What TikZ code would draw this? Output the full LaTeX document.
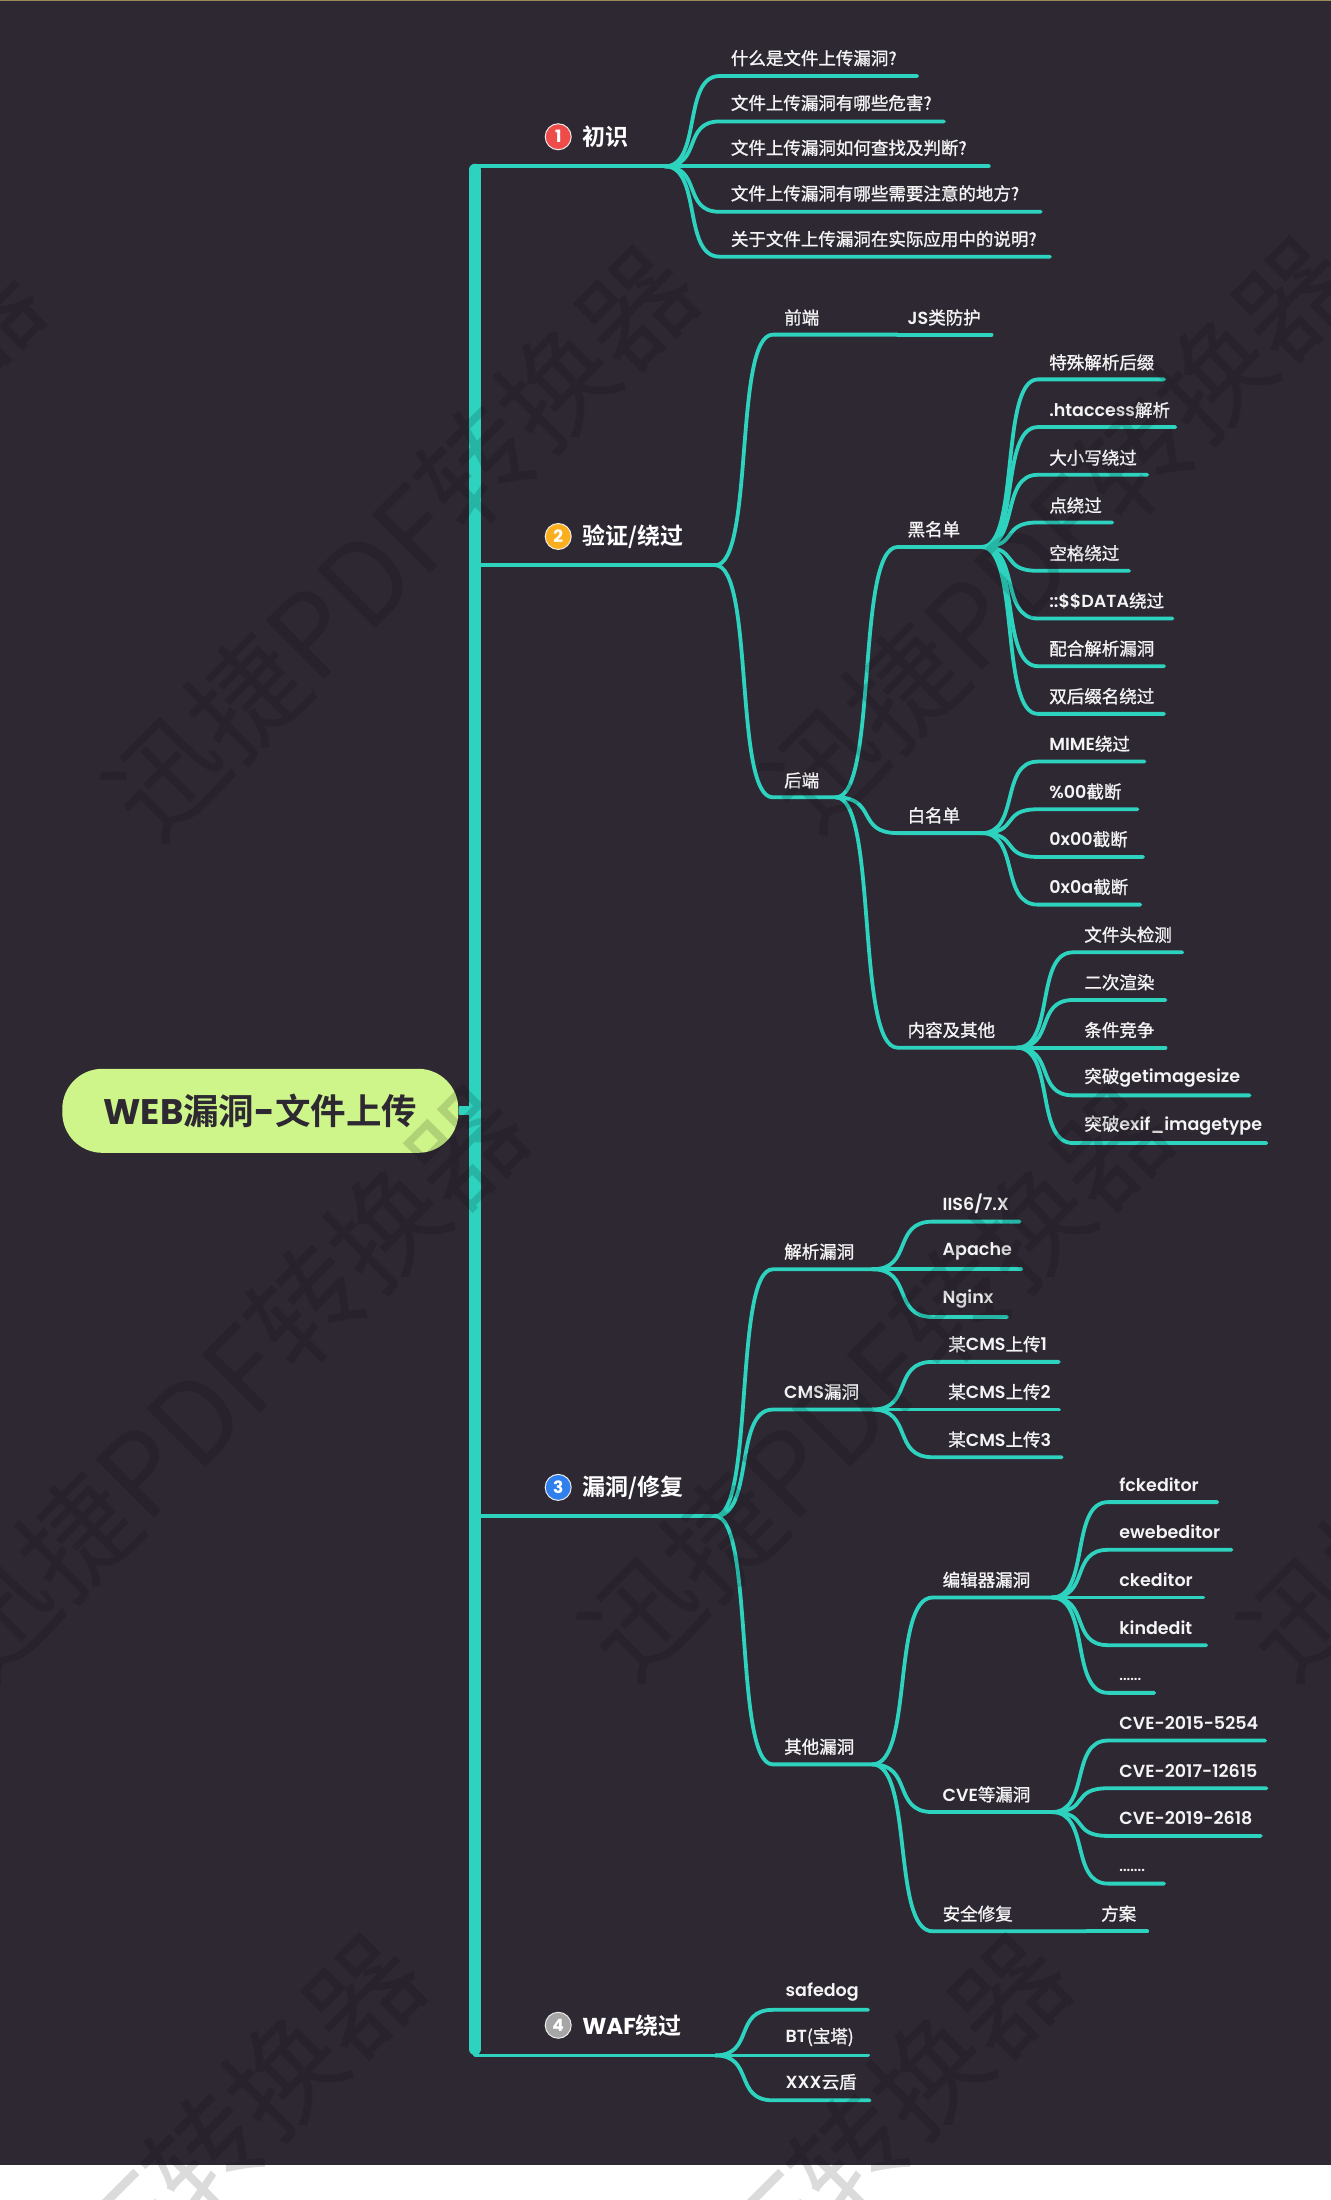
\documentclass[tikz,border=0pt]{standalone}
\usepackage{fontspec}
\usetikzlibrary{calc}
\setmainfont{Poppins SemiBold}
\newfontfamily\zh[FakeBold=1.2]{Noto Sans CJK SC}
\newfontfamily\zhb{Noto Sans CJK SC}[BoldFont={* Bold}]
\newfontfamily\zhw{Noto Sans CJK SC}
\newfontfamily\latb{Poppins}[BoldFont={* Bold}]
\definecolor{bgc}{HTML}{2E2833}
\definecolor{teal}{HTML}{2DD3BF}
\definecolor{pill}{HTML}{CEF58A}
\definecolor{txt}{HTML}{F4F4F4}
\definecolor{gold}{HTML}{9A8A5A}
\definecolor{bred}{HTML}{EE4B4B}
\definecolor{bora}{HTML}{FCAF1E}
\definecolor{bblu}{HTML}{2F80ED}
\definecolor{bgry}{HTML}{A6A6A6}
\tikzset{
  x=1.4025pt,y=-1.4025pt,
  wire/.style={draw=teal,line width=3.8pt,line cap=round,line join=round},
  lab/.style={anchor=west,inner sep=0pt,text=txt,font=\fontsize{17.5pt}{20pt}\selectfont},
  head/.style={anchor=west,inner sep=0pt,text=white,font=\fontsize{23pt}{26pt}\selectfont},
  badge/.style={circle,draw=white!85!gray,line width=1pt,minimum size=26pt,inner sep=0pt,text=white,font=\fontsize{17pt}{17pt}\selectfont\latb\bfseries},
  wmark/.style={rotate=45,text=black,opacity=0.14,inner sep=0pt,font=\fontsize{113pt}{113pt}\zhw}
}
% name, text x, text y, line y, line start x, line end x, text
\newcommand{\topic}[7]{%
  \node[lab] (#1) at (#2,#3+0.4) {#7};
  \coordinate (#1-s) at (#5,#4);
  \coordinate (#1-e) at (#6,#4);
}
\newcommand{\link}[2]{%
  \draw[wire] let \p1=(#1-e),\p2=(#2-s),\n1={0.68*(\x2-\x1)} in
    (\p1) .. controls (\x1+\n1,\y1) and (\x2-\n1,\y2) .. (\p2) -- (#2-e);
}
\begin{document}
\begin{tikzpicture}
\useasboundingbox (0,0) rectangle (949,1568.6);
\begin{scope}
\clip (0,0) rectangle (949,1568.6);
\fill[white] (0,0) rectangle (949,1568.6);
\fill[bgc] (0,0) rectangle (949,1543.6);
\fill[gold] (0,0) rectangle (949,0.8);

% trunk
\coordinate (trunk-top) at (338.7,121);
\coordinate (trunk-bot) at (338.7,1461);
\node[fill=pill,rounded corners=40pt,minimum width=396pt,minimum height=84pt,inner sep=0pt,text=bgc,
      font=\fontsize{35.5pt}{38pt}\selectfont] (root) at (185.6,792) {{\latb\bfseries WEB}{\zhb\bfseries 漏洞}{\latb\bfseries -}{\zhb\bfseries 文件上传}};
\draw[teal,line width=9pt] (root.east) -- (root.east -| trunk-top);
\draw[teal,line width=12pt,line cap=round] (trunk-top) -- (trunk-bot);

% level one
\node[badge,fill=bred] (b1) at (398,97.5) {1};
\node[badge,fill=bora] (b2) at (398,382.5) {2};
\node[badge,fill=bblu] (b3) at (398,1060.5) {3};
\node[badge,fill=bgry] (b4) at (398,1444) {4};
\node[head] (L1) at (415,97.5) {{\zhb\bfseries 初识}};
\node[head] (L2) at (415,382.5) {{\zhb\bfseries 验证/绕过}};
\node[head] (L3) at (415,1060.5) {{\zhb\bfseries 漏洞/修复}};
\node[head] (L4) at (415,1444) {{\latb\bfseries WAF}{\zhb\bfseries 绕过}};
\coordinate (L1-s) at (338.7,118.6); \coordinate (L1-e) at (474,118.6);
\coordinate (L2-s) at (338.7,403);   \coordinate (L2-e) at (510,403);
\coordinate (L3-s) at (338.7,1081);  \coordinate (L3-e) at (510,1081);
\coordinate (L4-s) at (338.7,1465.5);\coordinate (L4-e) at (510,1465.5);
\foreach \k in {L1,L2,L3,L4} {\draw[wire] (\k-s) -- (\k-e);}

% 初识
\topic{a1}{521}{41}{54.2}{513}{654}{{\zh 什么是文件上传漏洞?}}
\topic{a2}{521}{73}{86.6}{513}{673}{{\zh 文件上传漏洞有哪些危害?}}
\topic{a3}{521}{105}{118.6}{513}{705}{{\zh 文件上传漏洞如何查找及判断?}}
\topic{a4}{521}{137.5}{151}{513}{742}{{\zh 文件上传漏洞有哪些需要注意的地方?}}
\topic{a5}{521}{170}{183}{513}{748.6}{{\zh 关于文件上传漏洞在实际应用中的说明?}}
\foreach \k in {a1,a2,a3,a4,a5} {\link{L1}{\k}}

% 验证/绕过
\topic{front}{559}{226}{238.6}{551}{640}{{\zh 前端}}
\topic{js}{647}{226}{238.6}{640}{707}{JS{\zh 类防护}}
\topic{back}{559}{556}{568.5}{551}{596}{{\zh 后端}}
\link{L2}{front}
\link{L2}{back}
\draw[wire] (front-e) -- (js-s) -- (js-e);

\topic{black}{647}{377}{390}{640}{700}{{\zh 黑名单}}
\topic{white}{647}{581}{594}{640}{700}{{\zh 白名单}}
\topic{other}{647}{734}{747}{640}{725}{{\zh 内容及其他}}
\foreach \k in {black,white,other} {\link{back}{\k}}

\topic{b1x}{748}{258}{270.5}{740}{830}{{\zh 特殊解析后缀}}
\topic{b2x}{748}{292}{304.5}{740}{838}{.htaccess{\zh 解析}}
\topic{b3x}{748}{326}{338.5}{740}{818}{{\zh 大小写绕过}}
\topic{b4x}{748}{360}{372.5}{740}{793}{{\zh 点绕过}}
\topic{b5x}{748}{394}{407}{740}{805}{{\zh 空格绕过}}
\topic{b6x}{748}{428}{441}{740}{836}{::\$\$DATA{\zh 绕过}}
\topic{b7x}{748}{462}{475}{740}{830}{{\zh 配合解析漏洞}}
\topic{b8x}{748}{496}{509}{740}{830}{{\zh 双后缀名绕过}}
\foreach \k in {b1x,b2x,b3x,b4x,b5x,b6x,b7x,b8x} {\link{black}{\k}}

\topic{w1}{748}{530}{543}{740}{816}{MIME{\zh 绕过}}
\topic{w2}{748}{564}{577}{740}{811}{\%00{\zh 截断}}
\topic{w3}{748}{598}{611}{740}{815}{0x00{\zh 截断}}
\topic{w4}{748}{632}{645}{740}{813}{0x0a{\zh 截断}}
\foreach \k in {w1,w2,w3,w4} {\link{white}{\k}}

\topic{o1}{773}{666}{679}{765}{843}{{\zh 文件头检测}}
\topic{o2}{773}{700}{713}{765}{831}{{\zh 二次渲染}}
\topic{o3}{773}{734}{747}{765}{831}{{\zh 条件竞争}}
\topic{o4}{773}{768}{781}{765}{891}{{\zh 突破}getimagesize}
\topic{o5}{773}{802}{815}{765}{903}{{\zh 突破}exif\_imagetype}
\foreach \k in {o1,o2,o3,o4,o5} {\link{other}{\k}}

% 漏洞/修复
\topic{parse}{559}{892}{905}{551}{622}{{\zh 解析漏洞}}
\topic{cms}{559}{992}{1005}{551}{622}{CMS{\zh 漏洞}}
\topic{misc}{559}{1245}{1258}{551}{622}{{\zh 其他漏洞}}
\foreach \k in {parse,cms,misc} {\link{L3}{\k}}

\topic{p1}{672}{858}{871}{665}{727}{IIS6/7.X}
\topic{p2}{672}{892}{905}{665}{728}{Apache}
\topic{p3}{672}{926}{939}{665}{718}{Nginx}
\foreach \k in {p1,p2,p3} {\link{parse}{\k}}

\topic{c1}{676}{958}{971}{665}{755}{{\zh 某}CMS{\zh 上传}1}
\topic{c2}{676}{992}{1005}{665}{755}{{\zh 某}CMS{\zh 上传}2}
\topic{c3}{676}{1026}{1039}{665}{757}{{\zh 某}CMS{\zh 上传}3}
\foreach \k in {c1,c2,c3} {\link{cms}{\k}}

\topic{edit}{672}{1126}{1139}{665}{750}{{\zh 编辑器漏洞}}
\topic{cve}{672}{1279}{1292}{665}{750}{CVE{\zh 等漏洞}}
\topic{fix}{672}{1364}{1377}{665}{775}{{\zh 安全修复}}
\topic{plan}{785}{1364}{1377}{775}{818}{{\zh 方案}}
\foreach \k in {edit,cve,fix} {\link{misc}{\k}}
\draw[wire] (fix-e) -- (plan-s) -- (plan-e);

\topic{e1}{798}{1058}{1071}{790}{868}{fckeditor}
\topic{e2}{798}{1092}{1105}{790}{878}{ewebeditor}
\topic{e3}{798}{1126}{1139}{790}{858}{ckeditor}
\topic{e4}{798}{1160}{1173}{790}{860}{kindedit}
\topic{e5}{798}{1197}{1207}{790}{823}{\fontsize{14pt}{14pt}\selectfont ......}
\foreach \k in {e1,e2,e3,e4,e5} {\link{edit}{\k}}

\topic{v1}{798}{1228}{1241}{790}{902}{CVE-2015-5254}
\topic{v2}{798}{1262}{1275}{790}{903}{CVE-2017-12615}
\topic{v3}{798}{1296}{1309}{790}{899}{CVE-2019-2618}
\topic{v4}{798}{1333}{1343}{790}{830}{\fontsize{14pt}{14pt}\selectfont .......}
\foreach \k in {v1,v2,v3,v4} {\link{cve}{\k}}

% WAF
\topic{f1}{560}{1420}{1433}{551}{619}{safedog}
\topic{f2}{560}{1452}{1465.5}{551}{619}{BT{\zh (宝塔)}}
\topic{f3}{560}{1484}{1497.5}{551}{620}{XXX{\zh 云盾}}
\foreach \k in {f1,f2,f3} {\link{L4}{\k}}

% watermark
\foreach \cx/\cy [count=\i] in {-180/395,286/386.5,755/380,165/985,625/985,1095/985,92/1590,552/1590,1012/1590}
  {\node[wmark] (wm\i) at (\cx,\cy) {迅捷PDF转换器};}
\end{scope}
\end{tikzpicture}
\end{document}
